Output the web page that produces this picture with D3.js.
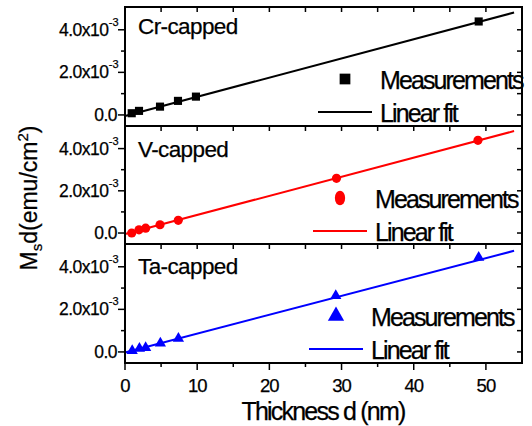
<html>
<head>
<meta charset="utf-8">
<title>Ms d vs thickness</title>
<style type="text/css">
  body { margin: 0; background: #fff; }
  svg text { font-family: "Liberation Sans", Arial, sans-serif; fill: #000; stroke: #000; stroke-width: 0.25px; }
</style>
<script src="https://d3js.org/d3.v7.min.js"></script>
</head>
<body>
<svg width="532" height="426"></svg>
<script>
// data (thickness in nm, Ms*d in emu/cm^2)
var crThickness = [0.93, 1.94, 4.85, 7.34, 9.83, 49.0];
var crMsd = [0.08e-3, 0.19e-3, 0.39e-3, 0.66e-3, 0.86e-3, 4.39e-3];
var vThickness = [0.93, 1.94, 2.86, 4.85, 7.38, 29.3, 48.9];
var vMsd = [0.0, 0.15e-3, 0.23e-3, 0.39e-3, 0.60e-3, 2.59e-3, 4.39e-3];
var taThickness = [1.0, 2.0, 2.86, 4.9, 7.4, 29.2, 49.0];
var taMsd = [0.05e-3, 0.16e-3, 0.20e-3, 0.41e-3, 0.63e-3, 2.64e-3, 4.44e-3];

// linear fit end points
var fitX = [0, 53.9];
var crFit = [-0.05e-3, 4.81e-3];
var vFit = [-0.05e-3, 4.83e-3];
var taFit = [-0.03e-3, 4.75e-3];

var panelNames = ["Cr-capped", "V-capped", "Ta-capped"];
var xTicks = [0, 10, 20, 30, 40, 50];
var yTicks = [0, 2e-3, 4e-3];
var yTickLabels = ["0.0", "2.0x10", "4.0x10"];
var yTickExp = ["", "-3", "-3"];

var svg = d3.select("svg");
var left = 125, right = 522;
var panelTops = [7, 126, 244], panelBottoms = [126, 244, 363];

var x = d3.scaleLinear().domain([0, 55]).range([left, right]);

var panels = [
  {name: panelNames[0], xs: crThickness, ys: crMsd, fit: crFit, color: "#000000", shape: d3.symbolSquare, labelDy: 27, legX: 380},
  {name: panelNames[1], xs: vThickness, ys: vMsd, fit: vFit, color: "#ff0000", shape: d3.symbolCircle, labelDy: 30.5, legX: 375},
  {name: panelNames[2], xs: taThickness, ys: taMsd, fit: taFit, color: "#0000ff", shape: d3.symbolTriangle, labelDy: 30, legX: 371}
];

panels.forEach(function(p, i){
  var top = panelTops[i], bottom = panelBottoms[i];
  var y = d3.scaleLinear().domain([-0.52e-3, 5.07e-3]).range([bottom, top]);
  var g = svg.append("g");

  // ticks: left outward, right inward, top inward
  var minorY = [1e-3, 3e-3];
  g.selectAll(".ly").data(yTicks).enter().append("line")
    .attr("x1", left - 7).attr("x2", left).attr("y1", d=>y(d)).attr("y2", d=>y(d))
    .attr("stroke", "#000").attr("stroke-width", 1.5);
  g.selectAll(".lym").data(minorY).enter().append("line")
    .attr("x1", left - 4).attr("x2", left).attr("y1", d=>y(d)).attr("y2", d=>y(d))
    .attr("stroke", "#000").attr("stroke-width", 1.5);
  g.selectAll(".ry").data(yTicks.concat(minorY)).enter().append("line")
    .attr("x1", right - 5).attr("x2", right).attr("y1", d=>y(d)).attr("y2", d=>y(d))
    .attr("stroke", "#000").attr("stroke-width", 1.5);
  g.selectAll(".tx").data(d3.range(5, 55, 5)).enter().append("line")
    .attr("x1", d=>x(d)).attr("x2", d=>x(d)).attr("y1", top).attr("y2", top + 5)
    .attr("stroke", "#000").attr("stroke-width", 1.5);

  // y tick labels
  g.selectAll(".yl").data(yTicks).enter().append("text")
    .attr("x", (d, k) => yTickExp[k] ? left - 16.5 : left - 8)
    .attr("y", d=>y(d) + 6)
    .attr("text-anchor", "end")
    .attr("font-size", "17.5px")
    .attr("letter-spacing", "-0.5px")
    .text((d, k) => yTickLabels[k]);
  g.selectAll(".ye").data(yTicks).enter().append("text")
    .attr("x", left - 6.5)
    .attr("y", d=>y(d) - 4)
    .attr("text-anchor", "end")
    .attr("font-size", "11px")
    .text((d, k) => yTickExp[k]);

  // fit line
  var line = d3.line().x(d=>x(d[0])).y(d=>y(d[1]));
  g.append("path")
    .attr("d", line(fitX.map((v, k) => [v, p.fit[k]])))
    .attr("fill", "none").attr("stroke", p.color).attr("stroke-width", 2);

  // measurements
  var sym = d3.symbol().type(p.shape).size(p.shape === d3.symbolTriangle ? 55 : 66);
  g.selectAll(".pt").data(p.xs).enter().append("path")
    .attr("d", sym)
    .attr("transform", (d, k) => "translate(" + x(d) + "," + y(p.ys[k]) + ")")
    .attr("fill", p.color);

  // frame
  g.append("rect").attr("x", left).attr("y", top)
    .attr("width", right - left).attr("height", bottom - top)
    .attr("fill", "none").attr("stroke", "#000").attr("stroke-width", 2);

  // panel label
  g.append("text").attr("x", 138).attr("y", top + p.labelDy)
    .attr("font-size", "22.5px").attr("letter-spacing", "-0.6px").text(p.name);

  // legend
  var legSym = d3.symbol().type(p.shape).size(115);
  g.append("path").attr("d", legSym)
    .attr("transform", "translate(" + (p.legX - 35) + "," + (top + 72) + ")" + (p.shape === d3.symbolCircle ? " scale(0.85,1.2)" : ""))
    .attr("fill", p.color);
  g.append("text").attr("x", p.legX).attr("y", top + 81.5)
    .attr("font-size", "25px").attr("letter-spacing", "-1.9px").text("Measurements");
  g.append("line").attr("x1", p.legX - 62).attr("x2", p.legX - 8)
    .attr("y1", top + 105).attr("y2", top + 105)
    .attr("stroke", p.color).attr("stroke-width", 2);
  g.append("text").attr("x", p.legX).attr("y", top + 115)
    .attr("font-size", "25px").attr("letter-spacing", "-1.9px").text("Linear fit");
});

// bottom x axis (outward ticks)
var bottom = panelBottoms[2];
svg.selectAll(".bx").data(d3.range(0, 55, 5)).enter().append("line")
  .attr("x1", d=>x(d)).attr("x2", d=>x(d))
  .attr("y1", bottom).attr("y2", d => bottom + (d % 10 === 0 ? 7 : 4))
  .attr("stroke", "#000").attr("stroke-width", 1.5);
svg.selectAll(".bxl").data(xTicks).enter().append("text")
  .attr("x", d=>x(d)).attr("y", 392)
  .attr("text-anchor", "middle")
  .attr("font-size", "18.5px").attr("letter-spacing", "-1px")
  .text(d=>d);

// axis titles
svg.append("text").attr("x", 323).attr("y", 420)
  .attr("text-anchor", "middle")
  .attr("font-size", "25px").attr("letter-spacing", "-1.8px")
  .text("Thickness d (nm)");

var yt = svg.append("text")
  .attr("transform", "translate(37,198) rotate(-90)")
  .attr("text-anchor", "middle")
  .attr("font-size", "23px");
yt.append("tspan").text("M");
yt.append("tspan").attr("font-size", "15px").attr("dy", 5).text("s");
yt.append("tspan").attr("dy", -5).text("d(emu/cm");
yt.append("tspan").attr("font-size", "15px").attr("dy", -9).text("2");
yt.append("tspan").attr("dy", 9).text(")");
</script>
</body>
</html>
